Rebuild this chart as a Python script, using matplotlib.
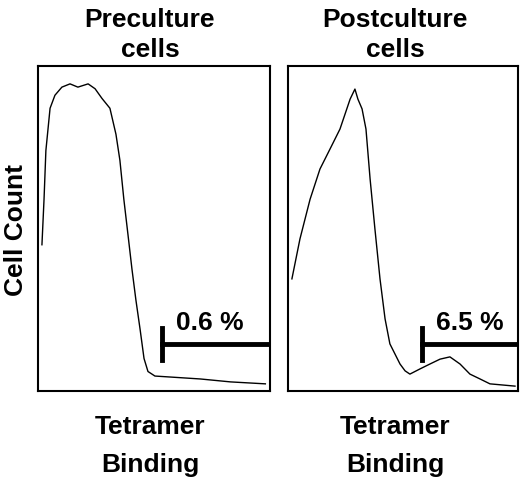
import matplotlib
matplotlib.use("Agg")
import matplotlib.pyplot as plt

plt.rcParams["font.family"] = ["Liberation Sans", "DejaVu Sans"]

# histogram traces (x: 0-100 of panel width, y: 0-100 of panel height)
pre_x = [1.7, 2.6, 3.4, 5.2, 7.3, 10.3, 13.8, 17.2, 21.6, 24.6, 27.6, 31, 33.6, 35.3, 37,
         38.8, 40.5, 42.2, 44, 45.7, 47.4, 50.4, 57, 70, 83, 98]
pre_y = [45, 59, 74, 87, 91, 93.5, 94.5, 93.5, 94.5, 93, 90, 87, 79, 71, 59,
         48, 37.5, 28, 19, 10, 6, 4.6, 4.3, 3.7, 2.8, 2.2]
post_x = [1.7, 5.2, 9.6, 13.9, 18.3, 22.6, 27, 29.1, 30.4, 32.2, 33.9, 35.7, 37.8, 40,
          42.2, 44.3, 46.5, 48.7, 50.9, 53, 57.4, 61.7, 66.1, 70.4, 74.8, 79.1, 83.5, 87.8, 98.7]
post_y = [34.5, 46.8, 59, 68.3, 74.5, 80.6, 89.8, 92.9, 89.8, 86.8, 80.6, 65.2, 49.8, 34.5,
          22.2, 14.5, 11.4, 8.3, 6.2, 5.2, 6.8, 8.3, 9.8, 10.5, 8.3, 5.2, 3.7, 2.2, 1.5]
pre_pct = "0.6 %"
post_pct = "6.5 %"

fig = plt.figure(figsize=(5.2, 4.85), dpi=100)
ax1 = fig.add_axes([38 / 520, 93 / 485, 232 / 520, 325 / 485])
ax2 = fig.add_axes([288 / 520, 93 / 485, 230 / 520, 325 / 485])

panels = [(ax1, pre_x, pre_y, pre_pct, 53.4), (ax2, post_x, post_y, post_pct, 58.3)]
for ax, xs, ys, pct, gx in panels:
    ax.plot(xs, ys, color="black", lw=1)
    ax.set_xlim(0, 100)
    ax.set_ylim(0, 100)
    ax.set_xticks([])
    ax.set_yticks([])
    for s in ax.spines.values():
        s.set_linewidth(1.5)
    ax.plot([gx, 100], [14.5, 14.5], color="black", lw=3.5)
    ax.plot([gx, gx], [9.5, 19.5], color="black", lw=3.5)
    ax.text(gx + 6, 17.5, pct, fontsize=19, fontweight="bold", ha="left", va="bottom")

fs = 19
fig.text(150 / 520, 1 - 20 / 485, "Preculture", fontsize=fs, fontweight="bold", ha="center", va="center")
fig.text(150 / 520, 1 - 50 / 485, "cells", fontsize=fs, fontweight="bold", ha="center", va="center")
fig.text(395 / 520, 1 - 20 / 485, "Postculture", fontsize=fs, fontweight="bold", ha="center", va="center")
fig.text(395 / 520, 1 - 50 / 485, "cells", fontsize=fs, fontweight="bold", ha="center", va="center")
for cx in (150, 395):
    fig.text(cx / 520, 1 - 427 / 485, "Tetramer", fontsize=fs, fontweight="bold", ha="center", va="center")
    fig.text(cx / 520, 1 - 465 / 485, "Binding", fontsize=fs, fontweight="bold", ha="center", va="center")
fig.text(16 / 520, 1 - 230 / 485, "Cell Count", fontsize=fs, fontweight="bold", ha="center", va="center",
         rotation=90)

fig.savefig("out.png", dpi=100)
